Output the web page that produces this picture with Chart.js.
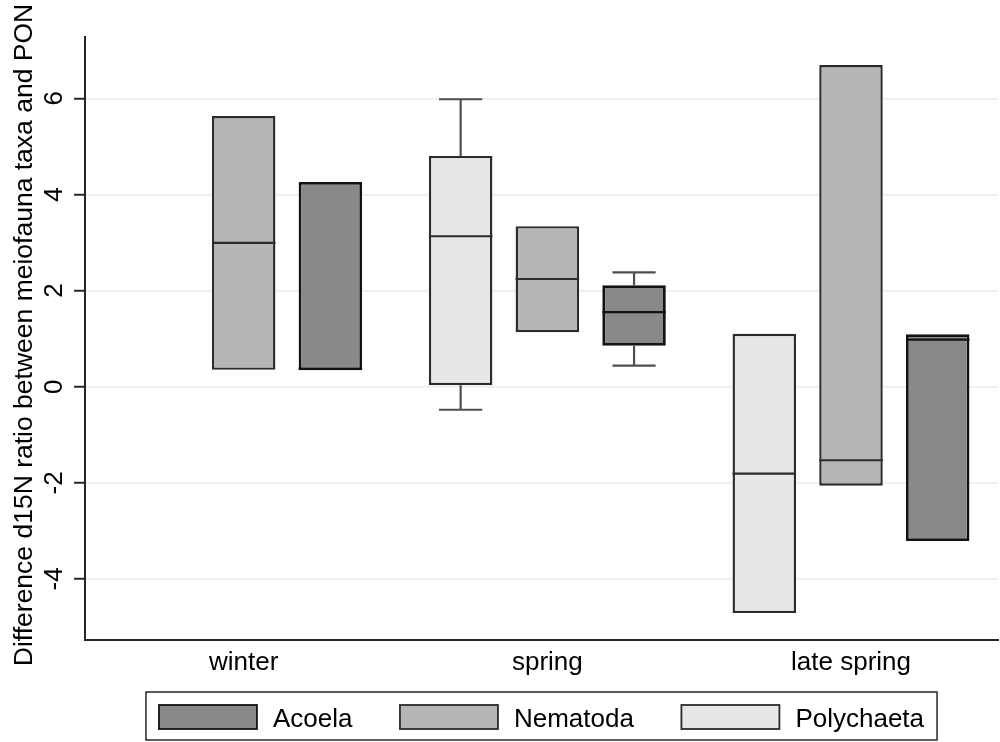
<!DOCTYPE html>
<html>
<head>
<meta charset="utf-8">
<script src="https://cdn.jsdelivr.net/npm/chart.js@4.4.1/dist/chart.umd.min.js"></script>
<style>
  html, body { margin: 0; padding: 0; background: #ffffff; }
  canvas { display: block; }
</style>
</head>
<body>
<canvas id="chart" width="1000" height="742"></canvas>
<script>
// Seasons on the x axis and y-axis tick values
const categories = ['winter', 'spring', 'late spring'];
const yTicks = [-4, -2, 0, 2, 4, 6];
const yTitle = 'Difference d15N ratio between meiofauna taxa and PON';

// Box statistics per season (null = no data for that season)
const polyQ1     = [null, 0.03, -4.71];
const polyMedian = [null, 3.13, -1.81];
const polyQ3     = [null, 4.80, 1.10];
const polyLow    = [null, -0.48, null];
const polyHigh   = [null, 5.98, null];

const nemaQ1     = [0.35, 1.13, -2.06];
const nemaMedian = [2.99, 2.24, -1.53];
const nemaQ3     = [5.63, 3.34, 6.69];
const nemaLow    = [null, null, null];
const nemaHigh   = [null, null, null];

const acoeQ1     = [0.34, 0.85, -3.21];
const acoeMedian = [0.37, 1.55, 0.98];
const acoeQ3     = [4.26, 2.11, 1.09];
const acoeLow    = [null, 0.44, null];
const acoeHigh   = [null, 2.38, null];

const FONT = '"Liberation Sans", Arial, Helvetica, sans-serif';
const INK = '#000000';
const AXIS = '#262626';

Chart.defaults.font.family = FONT;
Chart.defaults.color = INK;

// Floating bars [q1, q3], one point per season that has data
function boxData(q1, q3) {
  const out = [];
  categories.forEach((c, i) => {
    if (q1[i] !== null && q3[i] !== null) out.push({ x: i, y: [q1[i], q3[i]] });
  });
  return out;
}

const series = [
  { label: 'Polychaeta', q1: polyQ1, med: polyMedian, q3: polyQ3, lo: polyLow, hi: polyHigh, fill: '#e7e7e7', edge: '#2b2b2b', edgeW: 2.4 },
  { label: 'Nematoda',   q1: nemaQ1, med: nemaMedian, q3: nemaQ3, lo: nemaLow, hi: nemaHigh, fill: '#b6b6b6', edge: '#2b2b2b', edgeW: 2.4 },
  { label: 'Acoela',     q1: acoeQ1, med: acoeMedian, q3: acoeQ3, lo: acoeLow, hi: acoeHigh, fill: '#898989', edge: '#121212', edgeW: 2.8 }
];

const datasets = series.map(s => ({
  label: s.label,
  data: boxData(s.q1, s.q3),
  medians: s.med,
  lows: s.lo,
  highs: s.hi,
  backgroundColor: s.fill,
  borderColor: s.edge,
  borderWidth: s.edgeW,
  borderSkipped: false,
  categoryPercentage: 0.8566,
  barPercentage: 0.7324
}));

function line(ctx, x1, y1, x2, y2) {
  ctx.beginPath();
  ctx.moveTo(x1, y1);
  ctx.lineTo(x2, y2);
  ctx.stroke();
}

// Whiskers, medians, rotated y labels, axis title and boxed legend
const boxPlotParts = {
  id: 'boxPlotParts',
  beforeDatasetsDraw(chart) {
    const ctx = chart.ctx;
    const ys = chart.scales.y;
    ctx.save();
    ctx.strokeStyle = '#4f4f4f';
    ctx.lineWidth = 2.2;
    chart.data.datasets.forEach((ds, d) => {
      const meta = chart.getDatasetMeta(d);
      ds.data.forEach((pt, j) => {
        const bar = meta.data[j];
        const i = pt.x;
        const cx = bar.x;
        const half = bar.width * 0.34;
        if (ds.highs[i] !== null) {
          const yTop = ys.getPixelForValue(ds.highs[i]);
          line(ctx, cx, ys.getPixelForValue(pt.y[1]), cx, yTop);
          line(ctx, cx - half, yTop, cx + half, yTop);
        }
        if (ds.lows[i] !== null) {
          const yBot = ys.getPixelForValue(ds.lows[i]);
          line(ctx, cx, ys.getPixelForValue(pt.y[0]), cx, yBot);
          line(ctx, cx - half, yBot, cx + half, yBot);
        }
      });
    });
    ctx.restore();
  },
  afterDatasetsDraw(chart) {
    const ctx = chart.ctx;
    const ys = chart.scales.y;
    ctx.save();
    ctx.lineWidth = 2.2;
    chart.data.datasets.forEach((ds, d) => {
      const meta = chart.getDatasetMeta(d);
      ctx.strokeStyle = ds.borderColor;
      ds.data.forEach((pt, j) => {
        const bar = meta.data[j];
        const ym = ys.getPixelForValue(ds.medians[pt.x]);
        line(ctx, bar.x - bar.width / 2, ym, bar.x + bar.width / 2, ym);
      });
    });
    ctx.restore();
  },
  afterDraw(chart) {
    const ctx = chart.ctx;
    const ys = chart.scales.y;
    const area = chart.chartArea;
    ctx.save();
    ctx.fillStyle = INK;
    ctx.font = '26px ' + FONT;

    // y tick labels, read bottom-to-top
    ys.ticks.forEach(t => {
      const py = ys.getPixelForValue(t.value);
      ctx.save();
      ctx.translate(62, py);
      ctx.rotate(-Math.PI / 2);
      ctx.textAlign = 'center';
      ctx.textBaseline = 'alphabetic';
      ctx.fillText(t.label, 0, 0);
      ctx.restore();
    });

    // y axis title
    ctx.save();
    ctx.font = '26.5px ' + FONT;
    ctx.translate(32, 335);
    ctx.rotate(-Math.PI / 2);
    ctx.textAlign = 'center';
    ctx.textBaseline = 'alphabetic';
    ctx.fillText(yTitle, 0, 0);
    ctx.restore();

    // legend: Acoela, Nematoda, Polychaeta inside a framed box
    const order = chart.data.datasets.slice().reverse();
    const swW = 98, swH = 24, textGap = 16, itemGap = 47.5;
    const widths = order.map(ds => ctx.measureText(ds.label).width);
    let total = 0;
    widths.forEach((w, k) => { total += swW + textGap + w + (k > 0 ? itemGap : 0); });
    let x = (area.left + area.right) / 2 - total / 2;
    const boxTop = 692, boxH = 48;
    ctx.strokeStyle = AXIS;
    ctx.lineWidth = 1.5;
    ctx.strokeRect(x - 13, boxTop, total + 26, boxH);
    order.forEach((ds, k) => {
      ctx.fillStyle = ds.backgroundColor;
      ctx.fillRect(x, 705, swW, swH);
      ctx.strokeStyle = ds.borderColor;
      ctx.lineWidth = 1.8;
      ctx.strokeRect(x, 705, swW, swH);
      ctx.fillStyle = INK;
      ctx.textAlign = 'left';
      ctx.textBaseline = 'alphabetic';
      ctx.fillText(ds.label, x + swW + textGap, 727);
      x += swW + textGap + widths[k] + itemGap;
    });
    ctx.restore();
  }
};

new Chart(document.getElementById('chart'), {
  type: 'bar',
  data: { datasets },
  options: {
    responsive: false,
    animation: false,
    devicePixelRatio: 1,
    layout: { padding: { top: 37, right: 2, bottom: 55, left: 0 } },
    plugins: {
      legend: { display: false },
      tooltip: { enabled: false }
    },
    scales: {
      x: {
        type: 'linear',
        min: -0.5226,
        max: 2.4841,
        offset: false,
        afterBuildTicks: s => { s.ticks = categories.map((c, i) => ({ value: i })); },
        afterFit: s => { s.height = 47; },
        grid: { display: false, drawTicks: false },
        border: { display: true, color: AXIS, width: 2 },
        ticks: {
          callback: v => categories[v],
          font: { size: 26, family: FONT },
          color: INK,
          padding: 7,
          autoSkip: false,
          maxRotation: 0,
          minRotation: 0
        }
      },
      y: {
        min: -5.27,
        max: 7.275,
        afterBuildTicks: s => { s.ticks = yTicks.map(v => ({ value: v })); },
        afterFit: s => { s.width = 85; },
        grid: {
          color: '#e7eef0',
          lineWidth: 1.5,
          drawTicks: true,
          tickLength: 11,
          tickColor: AXIS,
          tickWidth: 2
        },
        border: { color: AXIS, width: 2 },
        ticks: { display: false }
      }
    }
  },
  plugins: [boxPlotParts]
});
</script>
</body>
</html>
